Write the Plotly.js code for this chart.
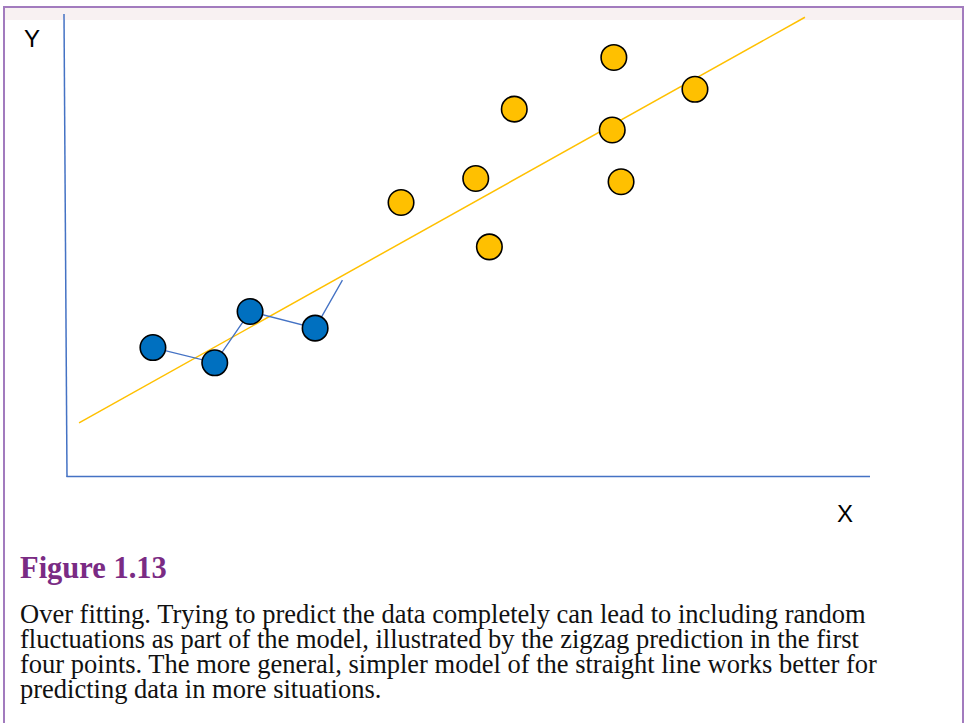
<!DOCTYPE html>
<html>
<head>
<meta charset="utf-8">
<script src="https://cdn.plot.ly/plotly-3.0.1.min.js"></script>
<style>
  html, body { margin: 0; padding: 0; background: #ffffff; }
  #chart { width: 966px; height: 723px; }
</style>
</head>
<body>
<div id="chart"></div>
<script>
// ---- Data (chart units: x 0..10 along X axis, y 0..10 along Y axis) ----
const fitX = [0.15, 9.19];
const fitY = [1.15, 9.93];

const zigX = [1.07, 1.84, 2.28, 3.09, 3.43];
const zigY = [2.78, 2.45, 3.56, 3.20, 4.24];

const blueX = [1.07, 1.84, 2.28, 3.09];
const blueY = [2.78, 2.45, 3.56, 3.20];

const goldX = [4.16, 5.09, 5.26, 5.57, 6.81, 6.79, 6.90, 7.82];
const goldY = [5.92, 6.44, 4.96, 7.94, 9.06, 7.49, 6.37, 8.37];

const axisLabels = ["X", "Y"];
const figTitle = "Figure 1.13";
const captionLines = [
  "Over fitting. Trying to predict the data completely can lead to including random",
  "fluctuations as part of the model, illustrated by the zigzag prediction in the first",
  "four points. The more general, simpler model of the straight line works better for",
  "predicting data in more situations."
];

// ---- Layout helpers (pixel -> paper) ----
const W = 966, H = 723;
const L = 67, R = 870, T = 14, B = 476;
const px = v => (v - L) / (R - L);
const py = v => (B - v) / (B - T);

const traces = [
  { x: fitX, y: fitY, mode: 'lines', type: 'scatter',
    line: { color: '#FFC000', width: 1.5 }, hoverinfo: 'skip' },
  { x: zigX, y: zigY, mode: 'lines', type: 'scatter',
    line: { color: '#4472C4', width: 1.3 }, hoverinfo: 'skip' },
  { x: blueX, y: blueY, mode: 'markers', type: 'scatter',
    marker: { color: '#0070C0', size: 25.5, line: { color: '#000000', width: 1.6 } } },
  { x: goldX, y: goldY, mode: 'markers', type: 'scatter',
    marker: { color: '#FFC000', size: 25.5, line: { color: '#000000', width: 1.6 } } }
];

const serif = '"Liberation Serif", "Times New Roman", serif';
const sans = '"Liberation Sans", Arial, sans-serif';

// caption: line spacing 25px (1.3 x 19.23), glyphs at 26.5px
const captionText = captionLines
  .map(t => '<span style="font-size:26.5px">' + t + '</span>')
  .join('<br>');

const annotations = [
  { text: axisLabels[1], x: px(32), y: py(38), xref: 'paper', yref: 'paper',
    showarrow: false, xanchor: 'center', yanchor: 'middle',
    font: { family: sans, size: 24, color: '#000000' } },
  { text: axisLabels[0], x: px(845), y: py(513), xref: 'paper', yref: 'paper',
    showarrow: false, xanchor: 'center', yanchor: 'middle',
    font: { family: sans, size: 24, color: '#000000' } },
  { text: figTitle, x: px(18), y: py(568), xref: 'paper', yref: 'paper',
    showarrow: false, xanchor: 'left', yanchor: 'middle',
    font: { family: serif, size: 30.5, color: '#7A2B84', weight: 'bold' } },
  { text: captionText, x: px(18), y: py(651), xref: 'paper', yref: 'paper',
    showarrow: false, xanchor: 'left', yanchor: 'middle', align: 'left',
    font: { family: serif, size: 19.23, color: '#111111' } }
];

const shapes = [
  { type: 'rect', xref: 'paper', yref: 'paper', x0: px(5), x1: px(962), y0: py(8), y1: py(20),
    fillcolor: '#F8F1F2', line: { width: 0 }, layer: 'below' },
  { type: 'rect', xref: 'paper', yref: 'paper', x0: px(4), x1: px(963), y0: py(7), y1: py(740),
    line: { color: '#A27BBE', width: 2 }, fillcolor: 'rgba(0,0,0,0)' },
  { type: 'line', xref: 'paper', yref: 'paper', x0: px(64), y0: py(14), x1: px(67), y1: py(477),
    line: { color: '#4472C4', width: 1.5 } },
  { type: 'line', xref: 'paper', yref: 'paper', x0: px(66.5), y0: py(476.5), x1: px(870), y1: py(476.5),
    line: { color: '#4472C4', width: 1.5 } }
];

const layout = {
  width: W, height: H,
  margin: { l: L, r: W - R, t: T, b: H - B, pad: 0 },
  paper_bgcolor: '#ffffff', plot_bgcolor: '#ffffff',
  showlegend: false,
  xaxis: { range: [0, 10], showgrid: false, zeroline: false, showline: false,
           showticklabels: false, ticks: '', fixedrange: true },
  yaxis: { range: [0, 10], showgrid: false, zeroline: false, showline: false,
           showticklabels: false, ticks: '', fixedrange: true },
  annotations: annotations,
  shapes: shapes
};

traces.forEach(t => { t.cliponaxis = false; });

Plotly.newPlot('chart', traces, layout, { staticPlot: true, displayModeBar: false });
</script>
</body>
</html>
